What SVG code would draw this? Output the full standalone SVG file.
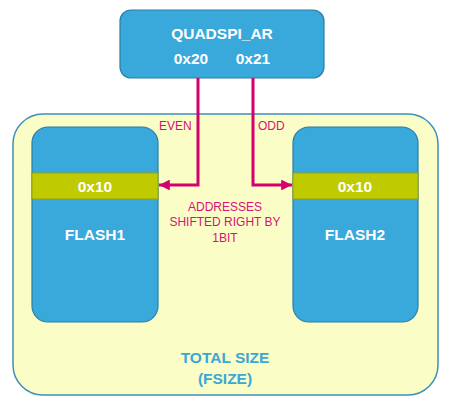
<svg xmlns="http://www.w3.org/2000/svg" width="450" height="408" viewBox="0 0 450 408">
<defs>
<style>
.blue{fill:#39a8db;stroke:#2b7fa6;stroke-width:1.2}
.band{fill:#bfcb00;stroke:#9aa300;stroke-width:1}
.wt{font-family:"Liberation Sans",Arial,sans-serif;font-weight:bold;fill:#ffffff;text-anchor:middle;font-size:15.5px}
.pk{font-family:"Liberation Sans",Arial,sans-serif;fill:#d8127a;font-size:12px}
.conn{fill:none;stroke:#d4006f;stroke-width:3}
</style>
<marker id="ah" viewBox="0 0 10 10" refX="10" refY="5" markerWidth="3.6" markerHeight="3.6" orient="auto" markerUnits="strokeWidth">
<path d="M0,0 L10,5 L0,10 z" fill="#d4006f"/>
</marker>
</defs>
<rect width="450" height="408" fill="#ffffff"/>
<g id="total">
<rect x="13" y="114" width="425" height="281" rx="30" fill="#fbfdc6" stroke="#3f8fb8" stroke-width="1.5"/>
<text x="225" y="363" font-family="Liberation Sans,Arial,sans-serif" font-weight="bold" font-size="15.5" fill="#3aa7d9" text-anchor="middle">TOTAL SIZE</text>
<text x="225" y="384" font-family="Liberation Sans,Arial,sans-serif" font-weight="bold" font-size="15.5" fill="#3aa7d9" text-anchor="middle">(FSIZE)</text>
</g>
<g id="quadspi">
<rect x="120" y="10" width="204" height="68" rx="11" class="blue"/>
<text x="222" y="39" class="wt">QUADSPI_AR</text>
<text x="191" y="64" class="wt">0x20</text>
<text x="253" y="64" class="wt">0x21</text>
</g>
<g id="flash1">
<rect x="32" y="127" width="126" height="195" rx="16" class="blue"/>
<rect x="32" y="173" width="126" height="26" class="band"/>
<text x="95" y="192" class="wt">0x10</text>
<text x="95" y="240" class="wt">FLASH1</text>
</g>
<g id="flash2">
<rect x="293" y="127" width="125" height="195" rx="16" class="blue"/>
<rect x="293" y="173" width="125" height="26" class="band"/>
<text x="355" y="192" class="wt">0x10</text>
<text x="355" y="240" class="wt">FLASH2</text>
</g>
<g id="connectors">
<path d="M198,78 V185 H159" class="conn" marker-end="url(#ah)"/>
<path d="M253,78 V185 H292" class="conn" marker-end="url(#ah)"/>
<text x="159" y="130" class="pk">EVEN</text>
<text x="258" y="130" class="pk">ODD</text>
<text x="225" y="211" class="pk" text-anchor="middle">ADDRESSES</text>
<text x="225" y="226" class="pk" text-anchor="middle">SHIFTED RIGHT BY</text>
<text x="225" y="242" class="pk" text-anchor="middle">1BIT</text>
</g>
</svg>
